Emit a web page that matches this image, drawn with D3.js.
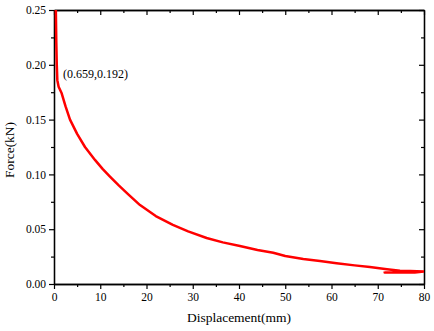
<!DOCTYPE html>
<html>
<head>
<meta charset="utf-8">
<script src="https://cdn.jsdelivr.net/npm/d3@7"></script>
<style>
  body { margin: 0; background: #fff; }
  svg text { font-family: "Liberation Serif", "Times New Roman", "DejaVu Serif", serif; }
</style>
</head>
<body>
<svg width="434" height="331"></svg>
<script>
const svg = d3.select("svg");
const margin = { top: 10, right: 10, bottom: 47, left: 54 };
const width = +svg.attr("width");
const height = +svg.attr("height");
const innerWidth = width - margin.left - margin.right;
const innerHeight = height - margin.top - margin.bottom;

// displacement (mm) and force (kN)
const displacement = [0.35, 0.4, 0.5, 0.6, 0.72, 1.0, 1.66, 2.5, 3.46, 5, 6.7, 8.9, 10.5, 12.1, 14, 16,
  18.6, 22, 25.7, 29, 33, 36.5, 40.2, 44, 47.4, 50, 53.9, 57.5, 61.1, 65, 68.3, 72, 74.8, 77, 80,
  78, 71.5, 71.5];
const force = [0.26, 0.25, 0.22, 0.2, 0.186, 0.18, 0.174, 0.162, 0.15, 0.137, 0.125, 0.113, 0.105, 0.098, 0.09, 0.082,
  0.072, 0.062, 0.054, 0.048, 0.042, 0.038, 0.0347, 0.031, 0.0285, 0.0255, 0.0228, 0.021, 0.019, 0.017, 0.0155, 0.0135, 0.012, 0.0118, 0.0115,
  0.0105, 0.0105, 0.0115];
const xTicks = [0, 10, 20, 30, 40, 50, 60, 70, 80];
const yTicks = [0, 0.05, 0.1, 0.15, 0.2, 0.25];
const annotation = { x: 0.659, y: 0.192, label: "(0.659,0.192)" };

const data = displacement.map((d, i) => ({ x: d, y: force[i] }));

const xScale = d3.scaleLinear().domain([0, 80]).range([0, innerWidth]);
const yScale = d3.scaleLinear().domain([0, 0.25]).range([innerHeight, 0]);

const g = svg.append("g").attr("transform", `translate(${margin.left},${margin.top})`);

g.append("clipPath").attr("id", "clip")
  .append("rect").attr("width", innerWidth).attr("height", innerHeight);

// minor ticks
const xMinor = d3.range(5, 80, 10);
const yMinor = d3.range(0.025, 0.25, 0.05);

const styleAxis = (a) => {
  a.attr("font-family", null);
  a.select(".domain").attr("stroke", "#000").attr("stroke-width", 1.3);
  a.selectAll(".tick line").attr("stroke", "#000").attr("stroke-width", 1.2);
  a.selectAll("text").attr("font-size", 11.5).attr("fill", "#000");
};

// bottom
g.append("g").attr("transform", `translate(0,${innerHeight})`)
  .call(d3.axisBottom(xScale).tickValues(xTicks).tickFormat(d3.format("d")).tickSize(5).tickPadding(4).tickSizeOuter(0))
  .call(styleAxis);
g.append("g").attr("transform", `translate(0,${innerHeight})`)
  .call(d3.axisBottom(xScale).tickValues(xMinor).tickFormat("").tickSize(3).tickSizeOuter(0))
  .call(styleAxis);
// top (ticks inward)
g.append("g")
  .call(d3.axisTop(xScale).tickValues(xTicks).tickFormat("").tickSize(-5).tickSizeOuter(0))
  .call(styleAxis);
g.append("g")
  .call(d3.axisTop(xScale).tickValues(xMinor).tickFormat("").tickSize(-3).tickSizeOuter(0))
  .call(styleAxis);
// left
g.append("g")
  .call(d3.axisLeft(yScale).tickValues(yTicks).tickFormat(d3.format(".2f")).tickSize(5).tickPadding(3).tickSizeOuter(0))
  .call(styleAxis);
g.append("g")
  .call(d3.axisLeft(yScale).tickValues(yMinor).tickFormat("").tickSize(3).tickSizeOuter(0))
  .call(styleAxis);
// right (ticks inward)
g.append("g").attr("transform", `translate(${innerWidth},0)`)
  .call(d3.axisRight(yScale).tickValues(yTicks).tickFormat("").tickSize(-5).tickSizeOuter(0))
  .call(styleAxis);
g.append("g").attr("transform", `translate(${innerWidth},0)`)
  .call(d3.axisRight(yScale).tickValues(yMinor).tickFormat("").tickSize(-3).tickSizeOuter(0))
  .call(styleAxis);

// curve
const line = d3.line().x((d) => xScale(d.x)).y((d) => yScale(d.y));
g.append("path")
  .datum(data)
  .attr("clip-path", "url(#clip)")
  .attr("d", line)
  .attr("fill", "none")
  .attr("stroke", "#ff0000")
  .attr("stroke-width", 2.5)
  .attr("stroke-linejoin", "round");

// annotation
g.append("text")
  .attr("x", xScale(annotation.x) + 6)
  .attr("y", yScale(annotation.y) + 4)
  .attr("font-size", 12)
  .attr("fill", "#000")
  .text(annotation.label);

// axis titles
g.append("text")
  .attr("x", innerWidth / 2)
  .attr("y", innerHeight + 38)
  .attr("text-anchor", "middle")
  .attr("font-size", 13.5)
  .text("Displacement(mm)");

g.append("text")
  .attr("transform", `translate(${-40},${innerHeight / 2 + 3}) rotate(-90)`)
  .attr("text-anchor", "middle")
  .attr("font-size", 13.5)
  .text("Force(kN)");
</script>
</body>
</html>
